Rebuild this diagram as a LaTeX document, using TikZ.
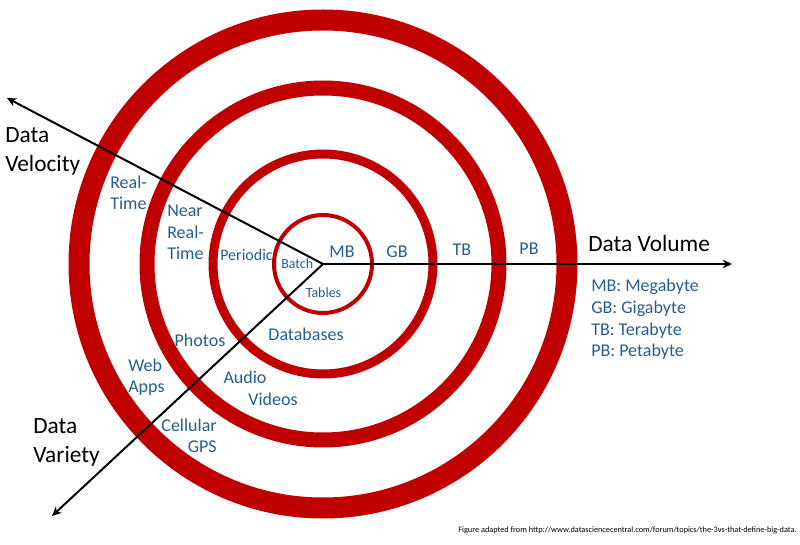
\documentclass[tikz,border=0pt]{standalone}
\usepackage{fontspec}
\setmainfont{Carlito}
\usepackage{xcolor}
\definecolor{vbred}{RGB}{192,0,0}
\definecolor{vbblue}{RGB}{37,94,141}
\usepackage{tikz}
\usetikzlibrary{arrows.meta, positioning}

\tikzset{
  axislabel/.style={font=\fontsize{17.5}{21.75}\selectfont, text=black, align=left, inner sep=0pt},
  lvl/.style={font=\fontsize{13.5}{16}\selectfont, text=vbblue, inner sep=0pt},
  smalllvl/.style={font=\fontsize{10.5}{12}\selectfont, text=vbblue, inner sep=0pt},
  axisarrow/.style={-{Stealth[length=7pt,width=6.5pt]}, line width=1.5pt, black},
}

\begin{document}
\begin{tikzpicture}[x=0.75pt, y=-0.75pt]
  \useasboundingbox (0,0) rectangle (800,545);

  % --- Rings ---
  \coordinate (c) at (323,264);
  \draw[vbred, line width=3pt]     (c) circle[radius=49];
  \draw[vbred, line width=6.75pt]  (c) circle[radius=110];
  \draw[vbred, line width=11.25pt] (c) circle[radius=176];
  \draw[vbred, line width=15.75pt] (c) circle[radius=244];

  % --- Axes ---
  \coordinate (veltip) at (7,98);
  \coordinate (vartip) at (52,516);
  \coordinate (voltip) at (732,264);
  \draw[axisarrow] (c) -- (veltip);
  \draw[axisarrow] (c) -- (vartip);
  \draw[axisarrow] (c) -- (voltip);

  % --- Axis names ---
  \node[axislabel, anchor=west] (velocity) at (5,151.5) {Data\\Velocity};
  \node[axislabel, anchor=west] (variety) at (33,442.5) {Data\\Variety};
  \node[axislabel, anchor=west] (volume) at (588,243) {Data Volume};

  % --- Velocity levels ---
  \node[lvl, anchor=west, align=left] (realtime) at (110,193) {Real-\\Time};
  \node[lvl, anchor=west, align=left] (nearrt) at (167,232.5) {Near\\Real-\\Time};
  \node[lvl, anchor=west, font=\fontsize{12}{14}\selectfont] (periodic) at (220,255) {Periodic};
  \node[smalllvl, anchor=west] (batch) at (281,264) {Batch};

  % --- Volume levels ---
  \node[lvl] (mb) at (342,252) {MB};
  \node[lvl] (gb) at (397,252) {GB};
  \node[lvl] (tb) at (462,250) {TB};
  \node[lvl] (pb) at (529,249) {PB};
  \node[lvl, anchor=west, align=left, font=\fontsize{13.5}{16.3}\selectfont] (legend) at (591,319.5)
    {MB: Megabyte\\GB: Gigabyte\\TB: Terabyte\\PB: Petabyte};

  % --- Variety levels ---
  \node[smalllvl] (tables) at (323.5,293) {Tables};
  \node[lvl] (databases) at (306,334) {Databases};
  \node[lvl] (photos) at (200,340) {Photos};
  \node[lvl] (audio) at (245,377) {Audio};
  \node[lvl] (videos) at (273,399) {Videos};
  \node[lvl, anchor=west, align=left] (webapps) at (128,377) {Web\\Apps};
  \node[lvl, anchor=east, align=right] (cellular) at (217,436) {Cellular\\GPS};

  % --- Source ---
  \node[anchor=east, inner sep=0pt, font=\fontsize{6.2}{7}\selectfont] (source) at (797,530)
    {Figure adapted from http://www.datasciencecentral.com/forum/topics/the-3vs-that-define-big-data.};
\end{tikzpicture}
\end{document}
